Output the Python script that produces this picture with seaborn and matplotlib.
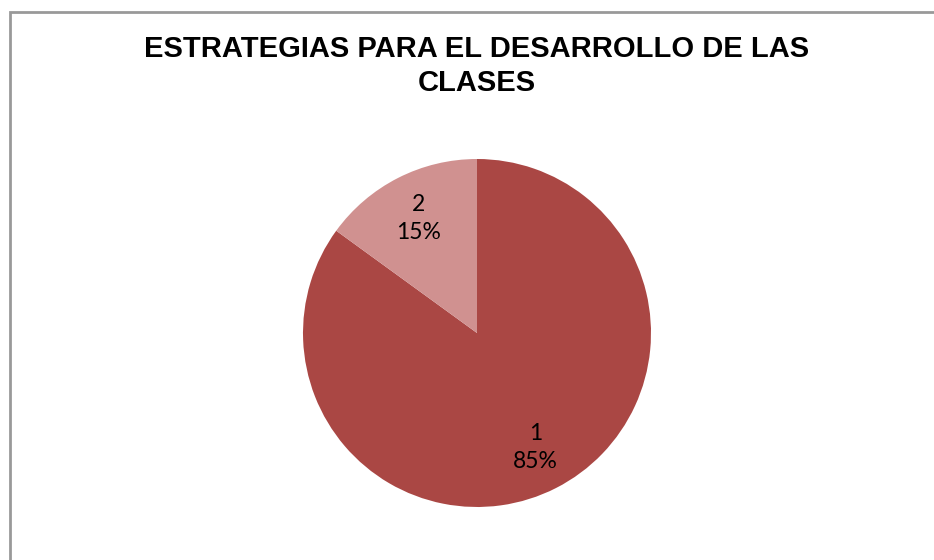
import matplotlib.pyplot as plt
import matplotlib.patches as mpatches
import seaborn as sns

sns.set_theme(context="paper", style="white")
plt.rcParams['font.family'] = ['Lato', 'DejaVu Sans']

categories = ['1', '2']
values = [85, 15]
colors = ['#AA4744', '#D09190']
title = 'ESTRATEGIAS PARA EL DESARROLLO DE LAS\nCLASES'

W, H = 934, 560
fig = plt.figure(figsize=(W / 100, H / 100), dpi=100)
fig.patch.set_facecolor('white')

# pie square: centre (477, 333) px, radius 174 px
cx, cy, r = 477, 333, 174
ax = fig.add_axes([(cx - r) / W, (H - cy - r) / H, 2 * r / W, 2 * r / H])

labels = [f"{c}\n{v}%" for c, v in zip(categories, values)]
wedges, texts = ax.pie(values, labels=labels, colors=colors, startangle=90,
                       counterclock=False, labeldistance=0.74, radius=1,
                       wedgeprops={'linewidth': 0},
                       textprops={'fontsize': 16.5, 'color': 'black', 'linespacing': 1.4})
for t in texts:
    t.set_ha('center')
    t.set_va('center')
ax.set_xlim(-1, 1)
ax.set_ylim(-1, 1)
ax.set_aspect('equal')
ax.axis('off')

fig.text(477 / W, 1 - 66 / H, title, ha='center', va='center', fontsize=21,
         fontweight='bold', color='black',
         family=['Liberation Sans', 'DejaVu Sans'], linespacing=1.3)

# chart area border (cropped on right and bottom)
border = mpatches.Rectangle((9.5 / W, -0.1), 1.2, 1 - 11.5 / H + 0.1, transform=fig.transFigure,
                            fill=False, edgecolor='#999999', linewidth=2, clip_on=False)
fig.patches.append(border)

plt.savefig('out.png', dpi=100)
